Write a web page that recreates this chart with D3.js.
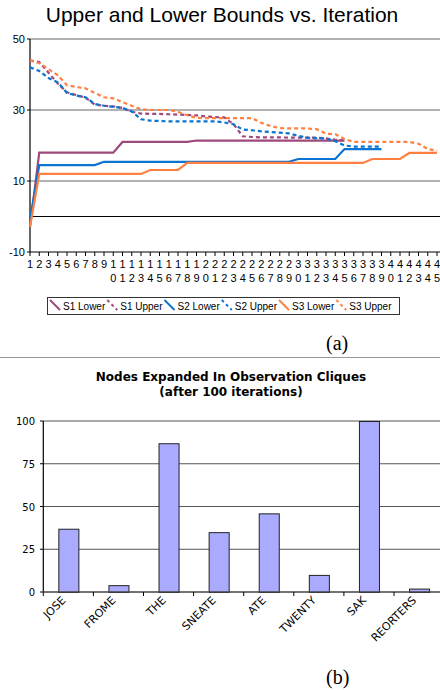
<!DOCTYPE html>
<html>
<head>
<meta charset="utf-8">
<script src="https://cdn.jsdelivr.net/npm/d3@7"></script>
<style>
  body { margin: 0; background: #fff; }
  svg { display: block; }
</style>
</head>
<body>
<svg id="chart" width="440" height="690"></svg>
<script>
// ---- data: panel (a) ----
var iterations = d3.range(1, 46);
var s1Lower = [-3, 18, 18, 18, 18, 18, 18, 18, 18, 18, 21, 21, 21, 21, 21, 21, 21, 21,
  21.4, 21.4, 21.4, 21.4, 21.4, 21.4, 21.4, 21.4, 21.4, 21.4, 21.4, 21.4, 21.4, 21.4, 21.4, 21.4, 21.4];
var s1Upper = [44, 43.5, 40.5, 37.5, 35, 34.2, 33.5, 31.5, 31.2, 31, 30.6, 29.5, 29, 28.9, 28.9, 28.8,
  28.7, 28.6, 28.5, 28.2, 28, 27.9, 26, 22.6, 22.4, 22.3, 22.3, 22.3, 22.2, 22.2, 22.2, 22.2, 22, 21.6, 21.5];
var s2Lower = [-1, 14.5, 14.5, 14.5, 14.5, 14.5, 14.5, 14.5,
  15.4, 15.4, 15.4, 15.4, 15.4, 15.4, 15.4, 15.4, 15.4, 15.4, 15.4, 15.4, 15.4, 15.4, 15.4, 15.4, 15.4, 15.4, 15.4, 15.4, 15.4,
  16.2, 16.2, 16.2, 16.2, 16.2, 19, 19, 19, 19, 19];
var s2Upper = [42, 41, 39, 37.8, 34.8, 34.1, 33.6, 31.7, 31.2, 30.9, 30.6, 29.6, 27.4, 27, 26.9, 26.8,
  26.8, 26.8, 26.8, 26.8, 26.8, 26.5, 26, 24.5, 24.3, 24, 23.8, 23.6, 23.4, 22.7, 22.2, 22, 22, 21.2,
  20, 19.7, 19.7, 19.7, 19.7];
var s3Lower = [-3, 12, 12, 12, 12, 12, 12, 12, 12, 12, 12, 12, 12, 13.1, 13.1, 13.1, 13.1,
  15.1, 15.1, 15.1, 15.1, 15.1, 15.1, 15.1, 15.1, 15.1, 15.1, 15.1, 15.1, 15.1, 15.1, 15.1, 15.1, 15.1, 15.1, 15.1, 15.1,
  16.2, 16.2, 16.2, 16.2, 17.9, 17.9, 17.9, 17.9];
var s3Upper = [44, 43.2, 41.5, 39.8, 37, 36.5, 36.1, 34.8, 33.6, 33.3, 32.2, 31.2, 30.2, 30, 30, 30,
  29.5, 28.5, 27.8, 27.7, 27.7, 27.7, 27.7, 27.7, 27.7, 26.4, 25.5, 24.9, 24.8, 24.8, 24.8, 24.6,
  23.3, 23.2, 21.8, 21, 21, 21, 21, 21, 21, 21, 20.5, 19, 18.5];
var seriesNames = ["S1 Lower", "S1 Upper", "S2 Lower", "S2 Upper", "S3 Lower", "S3 Upper"];
var yTicksA = [50, 30, 10, -10];
var gridA = [50, 30, 10];

// ---- data: panel (b) ----
var words = ["JOSE", "FROME", "THE", "SNEATE", "ATE", "TWENTY", "SAK", "REORTERS"];
var nodesExpanded = [37, 4, 87, 35, 46, 10, 100, 2];
var yTicksB = [0, 25, 50, 75, 100];

var svg = d3.select("#chart");
var colors = ["#9e4a7c", "#9e4a7c", "#0a74d0", "#0a74d0", "#ff8040", "#ff8040"];
var dashed = [false, true, false, true, false, true];
var allSeries = [s1Lower, s1Upper, s2Lower, s2Upper, s3Lower, s3Upper];

// ================= panel (a) =================
var xA = d3.scalePoint().domain(iterations).range([30, 437]);
var yA = d3.scaleLinear().domain([-10, 50]).range([252, 39]);

svg.append("text")
  .attr("x", 222).attr("y", 22)
  .attr("text-anchor", "middle")
  .style("font-family", "Liberation Sans, Arial, sans-serif")
  .style("font-size", "21px")
  .text("Upper and Lower Bounds vs. Iteration");

var gA = svg.append("g");

gA.selectAll("line.grid")
  .data(gridA)
  .enter().append("line")
  .attr("class", "grid")
  .attr("x1", 30).attr("x2", 440)
  .attr("y1", d => yA(d)).attr("y2", d => yA(d))
  .attr("stroke", "#666").attr("stroke-width", 1.2);

// zero line
gA.append("line")
  .attr("x1", 30).attr("x2", 440)
  .attr("y1", yA(0)).attr("y2", yA(0))
  .attr("stroke", "#000").attr("stroke-width", 1.2);

// x axis at bottom
var xAxisA = gA.append("g").attr("transform", "translate(0," + yA(-10) + ")");
xAxisA.append("line").attr("x1", 30).attr("x2", 440).attr("stroke", "#000").attr("stroke-width", 1.2);
xAxisA.selectAll("line.tick")
  .data(iterations)
  .enter().append("line")
  .attr("class", "tick")
  .attr("x1", d => xA(d)).attr("x2", d => xA(d))
  .attr("y1", 0).attr("y2", 4)
  .attr("stroke", "#000");
var xlab = xAxisA.selectAll("text")
  .data(iterations)
  .enter().append("text")
  .attr("text-anchor", "middle")
  .style("font-family", "Liberation Sans, Arial, sans-serif")
  .style("font-size", "11px");
xlab.append("tspan")
  .attr("x", d => xA(d)).attr("y", 16)
  .text(d => String(d)[0]);
xlab.filter(d => d >= 10).append("tspan")
  .attr("x", d => xA(d)).attr("y", 30)
  .text(d => String(d)[1]);

// y axis
gA.append("line")
  .attr("x1", 30).attr("x2", 30)
  .attr("y1", yA(50)).attr("y2", yA(-10))
  .attr("stroke", "#000").attr("stroke-width", 1.2);
gA.selectAll("line.ytick")
  .data(yTicksA)
  .enter().append("line")
  .attr("class", "ytick")
  .attr("x1", 27).attr("x2", 30)
  .attr("y1", d => yA(d)).attr("y2", d => yA(d))
  .attr("stroke", "#000");
gA.selectAll("text.ylab")
  .data(yTicksA)
  .enter().append("text")
  .attr("class", "ylab")
  .attr("x", 25).attr("y", d => yA(d) + 4)
  .attr("text-anchor", "end")
  .style("font-family", "Liberation Sans, Arial, sans-serif")
  .style("font-size", "11px")
  .text(d => d);

var lineA = d3.line()
  .x((d, i) => xA(iterations[i]))
  .y(d => yA(d));

allSeries.forEach(function (s, k) {
  gA.append("path")
    .datum(s)
    .attr("d", lineA)
    .attr("fill", "none")
    .attr("stroke", colors[k])
    .attr("stroke-width", 2.2)
    .attr("stroke-dasharray", dashed[k] ? "4,3" : null);
});

// legend
var leg = svg.append("g");
leg.append("rect")
  .attr("x", 47.5).attr("y", 297.5)
  .attr("width", 352).attr("height", 17)
  .attr("fill", "#fff").attr("stroke", "#333");
var lx = 50;
seriesNames.forEach(function (name, k) {
  leg.append("line")
    .attr("x1", lx).attr("y1", 300)
    .attr("x2", lx + 10).attr("y2", 310)
    .attr("stroke", colors[k]).attr("stroke-width", 2)
    .attr("stroke-dasharray", dashed[k] ? "3,3" : null);
  var t = leg.append("text")
    .attr("x", lx + 13).attr("y", 310)
    .style("font-family", "Liberation Sans, Arial, sans-serif")
    .style("font-size", "10px")
    .text(name);
  lx = lx + 13 + t.node().getComputedTextLength() + 2;
});

svg.append("text")
  .attr("x", 326).attr("y", 350)
  .style("font-family", "Liberation Serif, Times New Roman, serif")
  .style("font-size", "20px")
  .text("(a)");

// separator
svg.append("line")
  .attr("x1", 0).attr("x2", 440)
  .attr("y1", 357.5).attr("y2", 357.5)
  .attr("stroke", "#999");

// ================= panel (b) =================
var xB = d3.scaleBand().domain(words).range([43.3, 444.1]).paddingInner(0.6).paddingOuter(0.3);
var yB = d3.scaleLinear().domain([0, 100]).range([592, 421]);

var titleB = svg.append("text")
  .attr("text-anchor", "middle")
  .style("font-family", "DejaVu Sans, Verdana, sans-serif")
  .style("font-size", "12px")
  .style("font-weight", "bold");
titleB.append("tspan").attr("x", 231).attr("y", 381).text("Nodes Expanded In Observation Cliques");
titleB.append("tspan").attr("x", 231).attr("y", 396).text("(after 100 iterations)");

var gB = svg.append("g");
gB.selectAll("line.grid")
  .data(yTicksB.filter(d => d > 0))
  .enter().append("line")
  .attr("class", "grid")
  .attr("x1", 43.3).attr("x2", 440)
  .attr("y1", d => yB(d)).attr("y2", d => yB(d))
  .attr("stroke", "#555").attr("stroke-width", 1.2);

gB.selectAll("text.ylab")
  .data(yTicksB)
  .enter().append("text")
  .attr("class", "ylab")
  .attr("x", 35).attr("y", d => yB(d) + 4)
  .attr("text-anchor", "end")
  .style("font-family", "DejaVu Sans, Verdana, sans-serif")
  .style("font-size", "10px")
  .text(d => d);
gB.selectAll("line.ytick")
  .data(yTicksB)
  .enter().append("line")
  .attr("class", "ytick")
  .attr("x1", 40).attr("x2", 43.3)
  .attr("y1", d => yB(d)).attr("y2", d => yB(d))
  .attr("stroke", "#000");

gB.selectAll("rect.bar")
  .data(nodesExpanded)
  .enter().append("rect")
  .attr("class", "bar")
  .attr("x", (d, i) => xB(words[i]) + 0.5)
  .attr("y", d => yB(d) + 0.5)
  .attr("width", xB.bandwidth())
  .attr("height", d => yB(0) - yB(d))
  .attr("fill", "#aaaaff")
  .attr("stroke", "#222").attr("stroke-width", 1);

gB.append("line")
  .attr("x1", 43.3).attr("x2", 43.3)
  .attr("y1", yB(100)).attr("y2", yB(0))
  .attr("stroke", "#000").attr("stroke-width", 1.2);
gB.append("line")
  .attr("x1", 43.3).attr("x2", 440)
  .attr("y1", yB(0)).attr("y2", yB(0))
  .attr("stroke", "#444").attr("stroke-width", 1.5);
gB.selectAll("line.xtick")
  .data(d3.range(words.length))
  .enter().append("line")
  .attr("class", "xtick")
  .attr("x1", d => 43.3 + d * xB.step()).attr("x2", d => 43.3 + d * xB.step())
  .attr("y1", yB(0)).attr("y2", yB(0) + 4)
  .attr("stroke", "#000");

gB.selectAll("text.xlab")
  .data(words)
  .enter().append("text")
  .attr("class", "xlab")
  .attr("text-anchor", "end")
  .attr("transform", d => "translate(" + (xB(d) + xB.bandwidth() / 2 - 2) + "," + (yB(0) + 9) + ") rotate(-45)")
  .style("font-family", "DejaVu Sans, Verdana, sans-serif")
  .style("font-size", "11px")
  .text(d => d);

svg.append("text")
  .attr("x", 326).attr("y", 684)
  .style("font-family", "Liberation Serif, Times New Roman, serif")
  .style("font-size", "20px")
  .text("(b)");
</script>
</body>
</html>
